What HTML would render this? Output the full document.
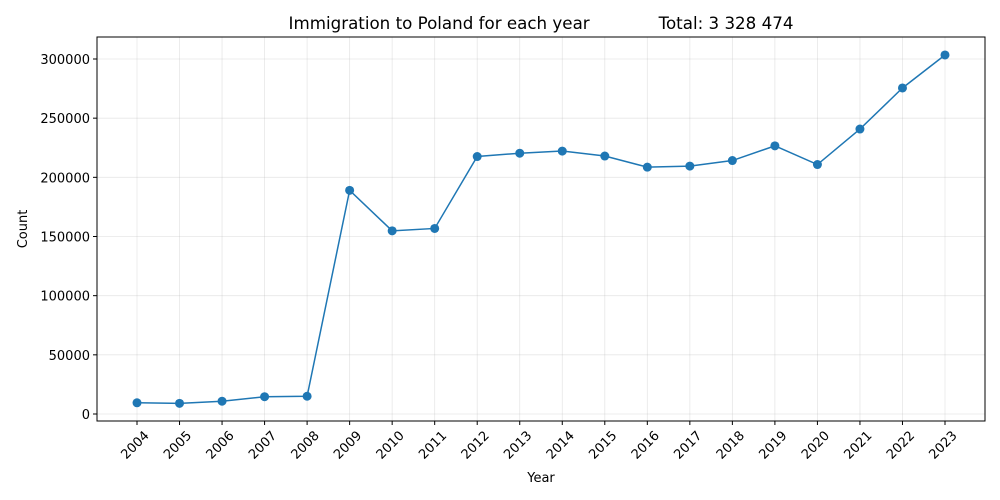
<!DOCTYPE html>
<html><head><meta charset="utf-8"><style>
body{margin:0;background:#fff;}
svg{display:block;font-family:"DejaVu Sans","Liberation Sans",sans-serif;}
</style></head><body>
<svg id="chart" width="1000" height="500">
<rect x="0" y="0" width="1000" height="500" fill="#fff"/>
<text x="541" y="29" text-anchor="middle" font-size="16.7" fill="#000" xml:space="preserve">Immigration to Poland for each year             Total: 3 328 474</text>
<g id="grid"></g><g id="axes"></g><g id="marks"></g>
<rect x="97" y="37" width="888" height="384" fill="none" stroke="#000" stroke-width="1"/>
<text x="541" y="482" text-anchor="middle" font-size="13">Year</text>
<text transform="translate(27,229) rotate(-90)" text-anchor="middle" font-size="13">Count</text>
</svg>
<script>
const years = [2004,2005,2006,2007,2008,2009,2010,2011,2012,2013,2014,2015,2016,2017,2018,2019,2020,2021,2022,2023];
const counts = [9500,9000,10800,14600,15000,189000,154800,156800,217600,220400,222200,218000,208600,209500,214200,226600,210800,240800,275500,303400];
const yTicks = [0,50000,100000,150000,200000,250000,300000];
const NS="http://www.w3.org/2000/svg";
const L=97,R=985,T=37,B=421;
const x0=137,x1=945;
function xs(i){return x0+(x1-x0)*i/(years.length-1);}
function ys(v){return 414-(414-59)*v/300000;}
function mk(t,a,p){const e=document.createElementNS(NS,t);for(const k in a)e.setAttribute(k,a[k]);p.appendChild(e);return e;}
const grid=document.getElementById('grid'),axes=document.getElementById('axes'),marks=document.getElementById('marks');
yTicks.forEach(v=>{const y=ys(v);
 const g=mk('line',{x1:L,x2:R,y1:y,y2:y,stroke:'#b0b0b0','stroke-opacity':0.3,'stroke-width':0.8},grid);
 
 
 mk('line',{x1:L-4,x2:L,y1:y,y2:y,stroke:'#000'},axes);
 const t=mk('text',{x:L-7,y:y+5,'text-anchor':'end','font-size':13},axes);t.textContent=v;
 
 
});
years.forEach((yr,i)=>{const x=xs(i);
 const g=mk('line',{x1:x,x2:x,y1:T,y2:B,stroke:'#b0b0b0','stroke-opacity':0.3,'stroke-width':0.8},grid);
 
 
 mk('line',{x1:x,x2:x,y1:B,y2:B+4,stroke:'#000'},axes);
 const t=mk('text',{x:0,y:0,'text-anchor':'middle','font-size':13,transform:`translate(${x+1},${448}) rotate(-45)`},axes);t.textContent=yr;
 
 
});
const pts=counts.map((v,i)=>xs(i)+','+ys(v)).join(' ');
const line=mk('polyline',{points:pts,fill:'none',stroke:'#1f77b4','stroke-width':1.5},marks);


counts.forEach((v,i)=>{const c=mk('circle',{cx:xs(i),cy:ys(v),r:4.5,fill:'#1f77b4'},marks);
 
 
});
</script>
</body></html>
